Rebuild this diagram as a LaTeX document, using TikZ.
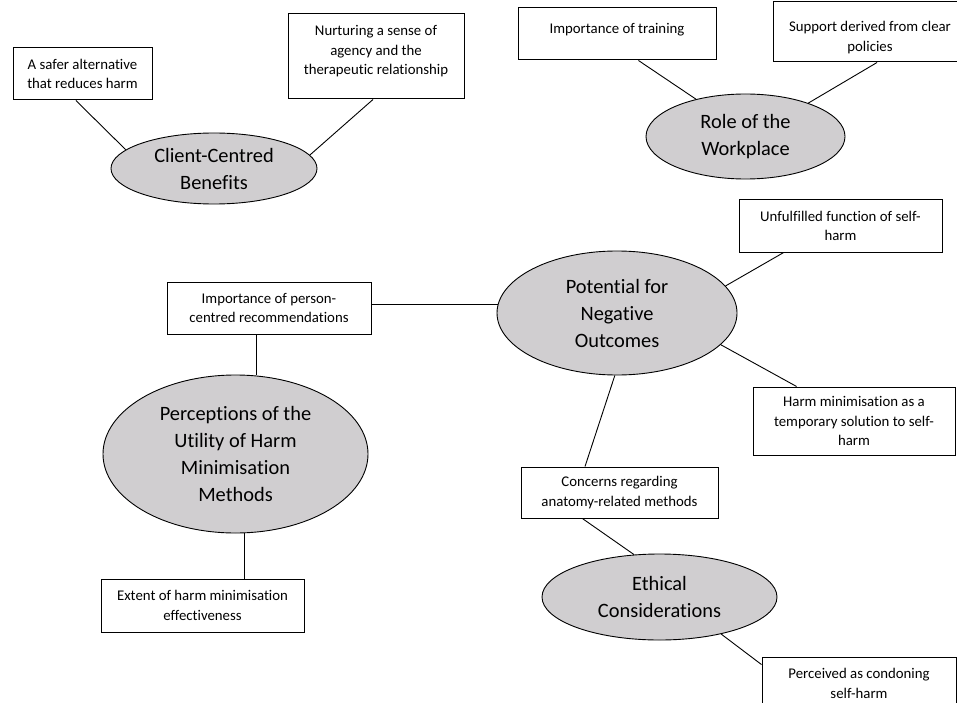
\documentclass[tikz,border=0pt]{standalone}
\usepackage{fontspec}
\setmainfont{Carlito}[Ligatures=NoCommon]
\usetikzlibrary{shapes.geometric,calc}
\definecolor{ellfill}{RGB}{208,206,208}
\tikzset{
  boxnode/.style={draw=black, line width=1pt, rectangle, inner sep=0pt, align=center,
    font=\fontsize{14.8}{19.5}\selectfont},
  boxtext/.style={inner sep=0pt, align=center, font=\fontsize{14.8}{19.5}\selectfont},
  themenode/.style={draw=black, line width=0.9pt, ellipse, fill=ellfill, inner sep=0pt,
    align=center, font=\fontsize{20.4}{27}\selectfont},
  link/.style={line width=0.9pt, draw=black}
}
\begin{document}
\begin{tikzpicture}[x=1pt,y=-1pt]
\clip (0,0) rectangle (957,703);
\fill[white] (0,0) rectangle (957,703);

% Client-Centred Benefits
\node[themenode, minimum width=206pt, minimum height=71pt] (e1) at (214,168.5) {Client-Centred\\Benefits};
\node[boxnode, minimum width=139pt, minimum height=52pt] (b1) at (82.5,74) {A safer alternative\\that reduces harm};
\node[boxnode, minimum width=176pt, minimum height=85pt] (b2) at (376,56.5) {};
\node[boxtext] (b2t) at (376,51.5) {Nurturing a sense of\\agency and the\\therapeutic relationship};

% Role of the Workplace
\node[themenode, minimum width=199pt, minimum height=85pt] (e2) at (745.5,136.5) {Role of the\\Workplace};
\node[boxnode, minimum width=198pt, minimum height=52pt] (b3) at (617,34) {};
\node[boxtext] (b3t) at (617,29.5) {Importance of training};
\node[boxnode, minimum width=194pt, minimum height=60pt] (b5) at (870,32) {};
\node[boxtext] (b5t) at (870,37.5) {Support derived from clear\\policies};

% Potential for Negative Outcomes
\node[themenode, minimum width=240pt, minimum height=124pt] (e3) at (617,313) {Potential for\\Negative\\Outcomes};
\node[boxnode, minimum width=204pt, minimum height=52pt] (bp) at (269,308) {Importance of person-\\centred recommendations};
\node[boxnode, minimum width=203pt, minimum height=52pt] (bu) at (840.5,226) {Unfulfilled function of self-\\harm};
\node[boxnode, minimum width=202pt, minimum height=68pt] (bh) at (854,421) {Harm minimisation as a\\temporary solution to self-\\harm};
\node[boxnode, minimum width=197pt, minimum height=51pt] (bc) at (619.5,492.5) {Concerns regarding\\anatomy-related methods};

% Perceptions
\node[themenode, minimum width=265pt, minimum height=158pt] (e4) at (235.5,454) {Perceptions of the\\Utility of Harm\\Minimisation\\Methods};
\node[boxnode, minimum width=203pt, minimum height=53pt] (ext) at (202.5,605.5) {Extent of harm minimisation\\effectiveness};

% Ethical Considerations
\node[themenode, minimum width=235pt, minimum height=86pt] (e5) at (659.5,597) {Ethical\\Considerations};
\node[boxnode, minimum width=194pt, minimum height=53pt] (bpc) at (859,683.5) {Perceived as condoning\\self-harm};

% connectors
\draw[link] (b1.256) -- (e1.168.6);
\draw[link] (b2.266) -- (e1.8.7);
\draw[link] (b3.309) -- (e2.143.7);
\draw[link] (b5.283) -- (e2.28.8);
\draw[link] (bp.east |- e3.176) -- (e3.176);
\draw[link] ([xshift=-13pt]bp.south) -- ([xshift=-13pt]bp.south |- e4.north);
\draw[link] ([xshift=8.5pt]e4.south) -- ([xshift=8.5pt]e4.south |- ext.north);
\draw[link] (e3.14.6) -- (bu.205.1);
\draw[link] (e3.343.5) -- (bh.149.2);
\draw[link] (e3.268) -- (bc.143.5);
\draw[link] (bc.215.7) -- (e5.121.3);
\draw[link] (e5.329.7) -- (bpc.169.2);
\end{tikzpicture}
\end{document}
